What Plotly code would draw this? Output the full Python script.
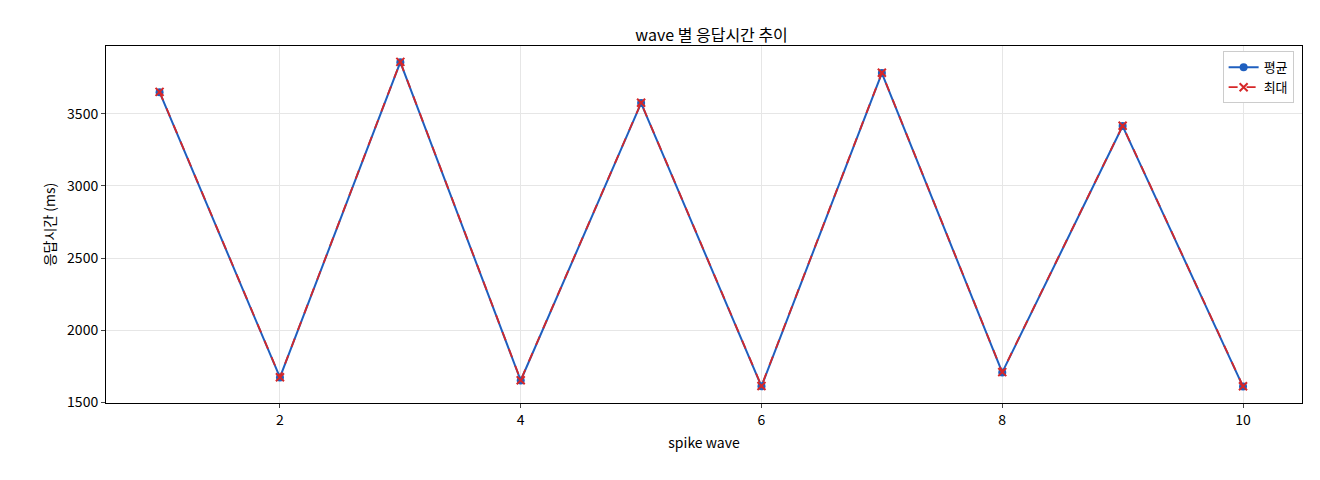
import plotly.graph_objects as go

waves = [1, 2, 3, 4, 5, 6, 7, 8, 9, 10]
avg_ms = [3650, 1672, 3858, 1651, 3574, 1611, 3782, 1707, 3415, 1609]
max_ms = [3652, 1674, 3860, 1653, 3576, 1613, 3784, 1709, 3417, 1611]

fig = go.Figure()
fig.add_trace(go.Scatter(x=waves, y=avg_ms, name="평균", mode="lines+markers",
                         line=dict(color="#1f5fbf", width=2), marker=dict(size=8, color="#1f5fbf")))
fig.add_trace(go.Scatter(x=waves, y=max_ms, name="최대", mode="lines+markers",
                         line=dict(color="#d62728", width=1.8, dash="dash"),
                         marker=dict(symbol="x-thin", size=8, line=dict(width=2, color="#d62728"))))

axis = dict(showline=True, linecolor="black", mirror=True, ticks="outside", ticklen=4,
            gridcolor="#e6e6e6", zeroline=False, tickfont=dict(size=14))
fig.update_layout(
    width=1320, height=480, plot_bgcolor="white", paper_bgcolor="white",
    font=dict(family="Noto Sans CJK KR", size=14, color="black"),
    title=dict(text="wave 별 응답시간 추이", x=0.533, y=0.955, xanchor="center", font=dict(size=16)),
    margin=dict(l=98, r=26, t=38, b=85),
    xaxis=dict(axis, title=dict(text="spike wave", standoff=10, font=dict(size=14)),
               range=[0.555, 10.49], tickvals=[2, 4, 6, 8, 10]),
    yaxis=dict(axis, title=dict(text="응답시간 (ms)", standoff=8, font=dict(size=14)), range=[1495, 3970],
               tickvals=[1500, 2000, 2500, 3000, 3500]),
    legend=dict(x=0.993, y=0.985, xanchor="right", yanchor="top", bordercolor="#cccccc",
                borderwidth=1, bgcolor="white", font=dict(size=13)),
)
fig.write_html("out.html")
